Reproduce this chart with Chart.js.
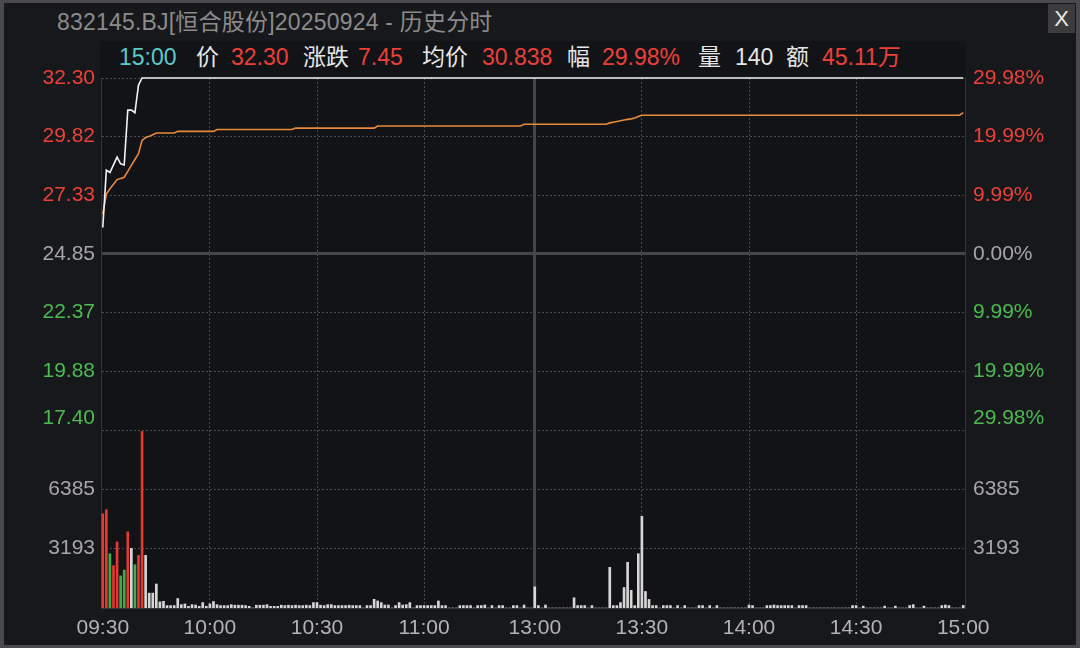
<!DOCTYPE html>
<html lang="zh">
<head>
<meta charset="utf-8">
<title>832145.BJ 历史分时</title>
<script src="https://cdn.jsdelivr.net/npm/chart.js@4.4.1/dist/chart.umd.min.js"></script>
<style>
  html, body { margin: 0; padding: 0; }
  body { width: 1080px; height: 648px; position: relative; overflow: hidden; background: #4a4a4c;
         font-family: "Liberation Sans", Arial, "Noto Sans CJK SC", sans-serif; }
  #panel { position: absolute; left: 4px; top: 3px; right: 4px; bottom: 3px; background: #17181b; }
  #plotbg { position: absolute; left: 100px; top: 41px; width: 866px; height: 568px; background: #121316; }
  #title { position: absolute; left: 57px; top: 11px; font-size: 23px; line-height: 23px; color: #8b8b8b;
           white-space: nowrap; letter-spacing: 0.2px; }
  #close { position: absolute; left: 1048px; top: 4px; width: 27px; height: 29px; background: #3c3c3e;
           color: #e8e8e8; font-size: 22px; line-height: 29px; text-align: center; }
  .info { position: absolute; top: 46px; font-size: 23px; line-height: 23px; white-space: nowrap; }
  #chart { position: absolute; left: 0; top: 0; }
</style>
</head>
<body>
<div id="panel"></div>
<div id="plotbg"></div>
<div id="title">832145.BJ[恒合股份]20250924 - 历史分时</div>
<div id="close">X</div>
<div id="infoRow"></div>
<canvas id="chart" width="1080" height="648"></canvas>
<script>
// 交易时段（起点, 分钟数）
const sessions = [['09:30', 121], ['13:00', 121]];
const timeTicks = ['09:30', '10:00', '10:30', '11:00', '13:00', '13:30', '14:00', '14:30', '15:00'];

const prevClose = 24.85;
const priceTicks = [17.40, 19.88, 22.37, 24.85, 27.33, 29.82, 32.30];
const pctTicks = [-29.98, -19.99, -9.99, 0, 9.99, 19.99, 29.98];
const volTicks = [3193, 6385];
const volMax = 9578;

// 价格线（拐点）
const priceTimes = ['09:30', '09:31', '09:32', '09:33', '09:34', '09:35', '09:36', '09:37', '09:38', '09:39', '09:40', '09:41', '15:00'];
const priceValues = [25.97, 28.40, 28.30, 28.62, 28.95, 28.67, 28.62, 30.94, 30.94, 30.83, 32.00, 32.30, 32.30];

// 均价线（拐点）
const avgTimes = ['09:30', '09:31', '09:32', '09:33', '09:34', '09:35', '09:36', '09:37', '09:38', '09:39',
  '09:40', '09:41', '09:42', '09:43', '09:44', '09:45', '09:50', '09:51', '10:01', '10:02',
  '10:23', '10:24', '10:46', '10:47', '11:27', '11:28', '13:20', '13:21', '13:22', '13:23',
  '13:24', '13:25', '13:26', '13:27', '13:28', '13:29', '13:30', '14:59', '15:00'];
const avgValues = [26.54, 27.39, 27.61, 27.80, 28.00, 28.05, 28.10, 28.35, 28.60, 28.85,
  29.10, 29.66, 29.78, 29.83, 29.90, 29.97, 29.97, 30.04, 30.04, 30.12,
  30.12, 30.18, 30.18, 30.27, 30.27, 30.34, 30.34, 30.40, 30.43, 30.46,
  30.49, 30.52, 30.55, 30.57, 30.61, 30.67, 30.725, 30.725, 30.838];

// 每分钟成交量
const volumes = [
  5070, 5290, 2920, 2280, 3560, 1730, 2040, 4100, 3210, 2330,
  2830, 9500, 2830, 800, 800, 1290, 330, 360, 130, 130,
  130, 510, 180, 220, 90, 180, 160, 90, 290, 90,
  220, 350, 180, 130, 130, 130, 180, 150, 150, 150,
  130, 90, 0, 150, 150, 150, 180, 90, 90, 90,
  150, 130, 150, 130, 150, 130, 130, 150, 130, 290,
  290, 150, 130, 180, 180, 130, 130, 130, 130, 150,
  130, 130, 130, 0, 130, 130, 470, 380, 290, 160,
  160, 0, 130, 290, 160, 180, 290, 0, 130, 130,
  130, 130, 130, 130, 380, 130, 130, 0, 0, 0,
  130, 130, 130, 130, 0, 130, 130, 160, 0, 130,
  0, 130, 130, 0, 0, 130, 130, 0, 160, 0,
  0, 1140, 130, 0, 160, 0, 0, 0, 0, 0,
  0, 0, 550, 130, 130, 130, 0, 130, 0, 0,
  0, 0, 2190, 130, 130, 290, 1100, 2460, 950, 130,
  2920, 4930, 890, 460, 130, 130, 0, 130, 130, 130,
  0, 130, 0, 130, 0, 0, 0, 130, 130, 0,
  130, 0, 130, 0, 0, 0, 0, 0, 0, 0,
  0, 160, 130, 0, 0, 0, 130, 130, 160, 130,
  130, 130, 130, 130, 0, 130, 130, 130, 0, 0,
  0, 0, 0, 0, 0, 0, 0, 0, 0, 0,
  130, 130, 0, 100, 0, 0, 0, 0, 0, 100,
  0, 0, 100, 0, 0, 0, 130, 180, 0, 0,
  100, 0, 0, 0, 0, 130, 160, 130, 0, 0,
  0, 140
];
// 开盘几分钟的涨跌方向：r 涨, g 跌, 其余 w 平
const volSide = 'rrgrrggrwgrr';

const RED = '#ec4039';
const GREEN = '#4bba50';
const GREY = '#a7a7a7';
const GRID = '#4a4b50';
const FONT = '"Liberation Sans", Arial, sans-serif';

// 顶部信息栏
const infoItems = [
  ['15:00', '#5ccaca', 119], ['价', '#e6e6e6', 196], ['32.30', RED, 231],
  ['涨跌', '#e6e6e6', 303], ['7.45', RED, 358], ['均价', '#e6e6e6', 422],
  ['30.838', RED, 482], ['幅', '#e6e6e6', 567], ['29.98%', RED, 602],
  ['量', '#e6e6e6', 698], ['140', '#e6e6e6', 735], ['额', '#e6e6e6', 786],
  ['45.11万', RED, 822]
];
const infoRow = document.getElementById('infoRow');
infoItems.forEach(([text, color, left]) => {
  const s = document.createElement('div');
  s.className = 'info';
  s.textContent = text;
  s.style.color = color;
  s.style.left = left + 'px';
  infoRow.appendChild(s);
});

function buildMinutes() {
  const out = [];
  sessions.forEach(([start, count]) => {
    let [h, m] = start.split(':').map(Number);
    for (let i = 0; i < count; i++) {
      out.push(String(h).padStart(2, '0') + ':' + String(m).padStart(2, '0'));
      m++;
      if (m === 60) { m = 0; h++; }
    }
  });
  return out;
}
const minutes = buildMinutes();

const pricePoints = priceTimes.map((t, i) => ({ x: t, y: priceValues[i] }));
const avgPoints = avgTimes.map((t, i) => ({ x: t, y: avgValues[i] }));
const barColors = volumes.map((v, i) => {
  const s = volSide[i];
  return s === 'r' ? '#e5392f' : s === 'g' ? '#3fae4a' : '#d6d6d6';
});

const sideColor = (v, mid) => Math.abs(v - mid) < 1e-6 ? GREY : (v > mid ? RED : GREEN);
const dotted = ctx => ctx.tick ? [2, 2] : [];

// 最下面一档标签往上挪，避开成交量区
const edgeLabels = {
  id: 'edgeLabels',
  afterDraw(chart) {
    const { ctx, chartArea } = chart;
    const yP = chart.scales.y, yR = chart.scales.yp;
    ctx.save();
    ctx.font = '21px ' + FONT;
    ctx.fillStyle = GREEN;
    ctx.textBaseline = 'middle';
    ctx.textAlign = 'right';
    ctx.fillText(priceTicks[0].toFixed(2), chartArea.left - 6, yP.getPixelForValue(priceTicks[0]) - 12);
    ctx.textAlign = 'left';
    ctx.fillText(Math.abs(pctTicks[0]).toFixed(2) + '%', chartArea.right + 8, yR.getPixelForValue(pctTicks[0]) - 12);
    ctx.restore();
  }
};

Chart.defaults.font.family = FONT;
Chart.defaults.font.size = 21;

new Chart(document.getElementById('chart'), {
  data: {
    labels: minutes,
    datasets: [
      { type: 'line', label: '价', data: pricePoints, yAxisID: 'y', borderColor: '#f2f2f2',
        borderWidth: 1.6, pointRadius: 0, tension: 0, clip: false, order: 1 },
      { type: 'line', label: '均价', data: avgPoints, yAxisID: 'y', borderColor: '#e8893b',
        borderWidth: 1.6, pointRadius: 0, tension: 0, clip: false, order: 2 },
      { type: 'bar', label: '量', data: volumes, yAxisID: 'yv', backgroundColor: barColors,
        barThickness: 2, order: 3 }
    ]
  },
  options: {
    responsive: false,
    maintainAspectRatio: false,
    animation: false,
    layout: { padding: { top: 78, left: 0, right: 0, bottom: 0 } },
    plugins: { legend: { display: false }, tooltip: { enabled: false } },
    scales: {
      x: {
        type: 'category',
        offset: true,
        afterBuildTicks: s => { s.ticks = timeTicks.map(t => ({ value: minutes.indexOf(t) })); },
        afterFit: s => { s.height = 40; },
        ticks: { autoSkip: false, maxRotation: 0, padding: 8, color: '#b3b3b3',
                 callback: v => minutes[v] },
        grid: {
          offset: false,
          drawTicks: false,
          color: ctx => {
            const l = ctx.tick && minutes[ctx.tick.value];
            if (l === '09:30' || l === '15:00') return 'rgba(0,0,0,0)';
            return l === '13:00' ? '#44454a' : GRID;
          },
          lineWidth: ctx => (ctx.tick && minutes[ctx.tick.value] === '13:00') ? 3 : 1
        },
        border: { color: '#36373b', dash: ctx => (ctx.tick && minutes[ctx.tick.value] !== '13:00') ? [2, 2] : [] }
      },
      y: {
        type: 'linear', position: 'left', stack: 'left', stackWeight: 352, weight: 2,
        min: priceTicks[0], max: priceTicks[priceTicks.length - 1],
        afterBuildTicks: s => { s.ticks = priceTicks.map(v => ({ value: v })); },
        afterFit: s => { s.width = 101; },
        ticks: { padding: 6, color: ctx => sideColor(ctx.tick.value, prevClose),
                 callback: v => v === priceTicks[0] ? '' : v.toFixed(2) },
        grid: {
          drawTicks: false,
          color: ctx => ctx.tick && ctx.tick.value === prevClose ? '#45464a' : GRID,
          lineWidth: ctx => ctx.tick && ctx.tick.value === prevClose ? 3 : 1
        },
        border: { color: '#36373b', dash: ctx => (ctx.tick && ctx.tick.value !== prevClose) ? [2, 2] : [] }
      },
      yv: {
        type: 'linear', position: 'left', stack: 'left', stackWeight: 178, weight: 1,
        min: 0, max: volMax,
        afterBuildTicks: s => { s.ticks = volTicks.map(v => ({ value: v })); },
        afterFit: s => { s.width = 101; },
        ticks: { padding: 6, color: GREY, callback: v => String(v) },
        grid: { drawTicks: false, color: GRID },
        border: { color: '#36373b', dash: dotted }
      },
      yp: {
        type: 'linear', position: 'right', stack: 'right', stackWeight: 352, weight: 1,
        min: pctTicks[0], max: pctTicks[pctTicks.length - 1],
        afterBuildTicks: s => { s.ticks = pctTicks.map(v => ({ value: v })); },
        afterFit: s => { s.width = 115; },
        ticks: { padding: 8, color: ctx => sideColor(ctx.tick.value, 0),
                 callback: v => v === pctTicks[0] ? '' : Math.abs(v).toFixed(2) + '%' },
        grid: { drawOnChartArea: false, drawTicks: false },
        border: { color: '#36373b' }
      },
      yv2: {
        type: 'linear', position: 'right', stack: 'right', stackWeight: 178, weight: 2,
        min: 0, max: volMax,
        afterBuildTicks: s => { s.ticks = volTicks.map(v => ({ value: v })); },
        afterFit: s => { s.width = 115; },
        ticks: { padding: 8, color: GREY, callback: v => String(v) },
        grid: { drawOnChartArea: false, drawTicks: false },
        border: { color: '#36373b' }
      }
    }
  },
  plugins: [edgeLabels]
});
</script>
</body>
</html>
